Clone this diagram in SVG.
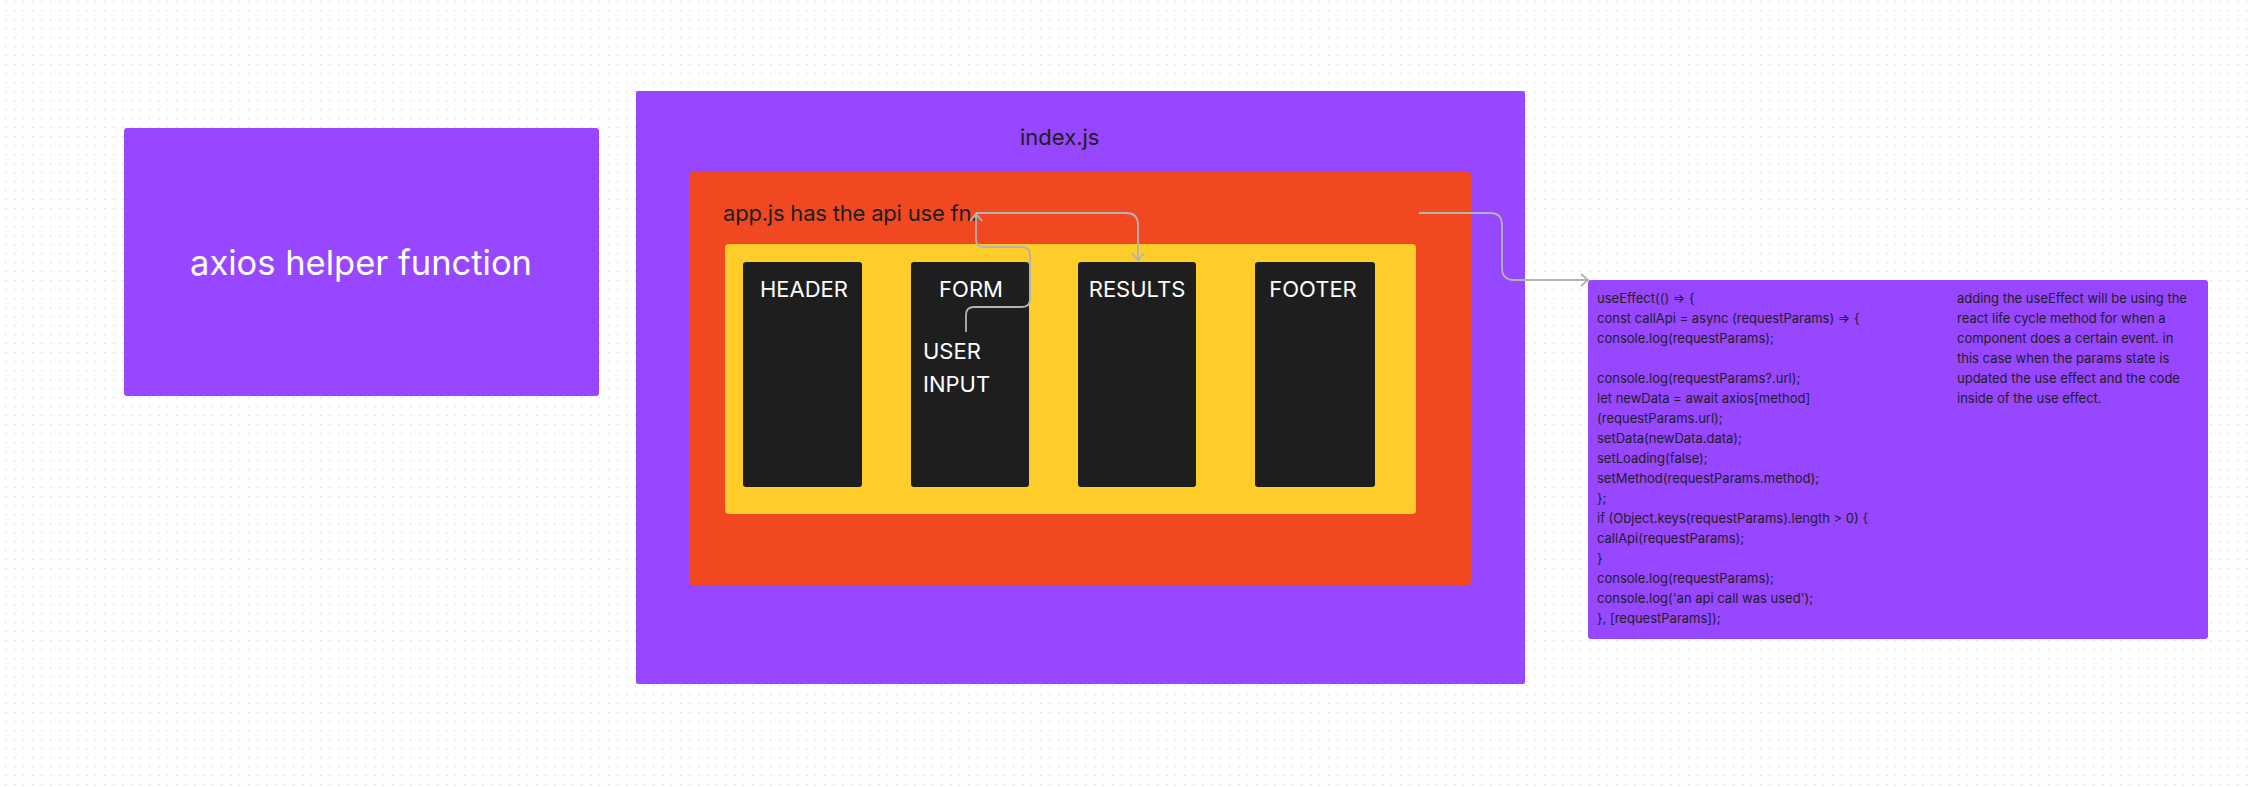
<svg xmlns="http://www.w3.org/2000/svg" width="2255" height="787" viewBox="0 0 2255 787">
<style>
.t{font-family:Inter,"Noto Sans","Liberation Sans",sans-serif}
.purple{fill:#9747FF}
.blk{fill:#1E1E1E}
.lbl{fill:#FFFFFF;font-size:22px}
.dark{fill:#1E1E1E}
.code{fill:#1E1E1E;font-size:13px}
.conn{fill:none;stroke:#B3B3B3;stroke-width:1.8}
</style>
<defs>
<pattern id="dots" x="0" y="0" width="9" height="9" patternUnits="userSpaceOnUse">
<rect x="5" y="1" width="1.4" height="1.2" fill="#D9D9D9"/>
</pattern>
<marker id="arr" viewBox="-10 -8 12 16" refX="0" refY="0" markerWidth="12" markerHeight="16" markerUnits="userSpaceOnUse" orient="auto">
<path d="M-7,-6 L0,0 L-7,6" fill="none" stroke="#B3B3B3" stroke-width="1.8"/>
</marker>
</defs>
<rect width="2255" height="787" fill="#FFFFFF"/>
<rect width="2255" height="787" fill="url(#dots)"/>

<g id="axios-helper">
<rect x="124" y="128" width="475" height="268" rx="3" class="purple"/>
<text x="361" y="275" class="t" font-size="34.5" fill="#FFFFFF" text-anchor="middle">axios helper function</text>
</g>

<g id="index-js">
<rect x="636" y="91" width="889" height="593" rx="2" class="purple"/>
<text x="1020" y="145" class="t dark" font-size="22">index.js</text>
</g>

<g id="app-js">
<rect x="689" y="172" width="782" height="413" rx="4" fill="#F24822"/>
<text x="723" y="221" class="t dark" font-size="22" letter-spacing="-0.2">app.js has the api use fn.</text>
</g>

<g id="layout">
<rect x="725" y="244" width="691" height="270" rx="4" fill="#FFCD29"/>
</g>

<g id="header">
<rect x="743" y="262" width="119" height="225" rx="3" class="blk"/>
<text x="804" y="297" class="t lbl" text-anchor="middle">HEADER</text>
</g>
<g id="form">
<rect x="911" y="262" width="118" height="225" rx="3" class="blk"/>
<text x="971" y="297" class="t lbl" text-anchor="middle">FORM</text>
<text x="923" y="359" class="t lbl">USER</text>
<text x="923" y="392" class="t lbl">INPUT</text>
</g>
<g id="results">
<rect x="1078" y="262" width="118" height="225" rx="3" class="blk"/>
<text x="1137" y="297" class="t lbl" text-anchor="middle">RESULTS</text>
</g>
<g id="footer">
<rect x="1255" y="262" width="120" height="225" rx="3" class="blk"/>
<text x="1313" y="297" class="t lbl" text-anchor="middle">FOOTER</text>
</g>

<g id="use-effect">
<rect x="1588" y="280" width="620" height="359" rx="3" class="purple"/>
<text class="t code">
<tspan x="1597" y="303">useEffect(() ⇒ {</tspan>
<tspan x="1597" y="323">const callApi = async (requestParams) ⇒ {</tspan>
<tspan x="1597" y="343">console.log(requestParams);</tspan>
<tspan x="1597" y="383">console.log(requestParams?.url);</tspan>
<tspan x="1597" y="403">let newData = await axios[method]</tspan>
<tspan x="1597" y="423">(requestParams.url);</tspan>
<tspan x="1597" y="443">setData(newData.data);</tspan>
<tspan x="1597" y="463">setLoading(false);</tspan>
<tspan x="1597" y="483">setMethod(requestParams.method);</tspan>
<tspan x="1597" y="503">};</tspan>
<tspan x="1597" y="523">if (Object.keys(requestParams).length &gt; 0) {</tspan>
<tspan x="1597" y="543">callApi(requestParams);</tspan>
<tspan x="1597" y="563">}</tspan>
<tspan x="1597" y="583">console.log(requestParams);</tspan>
<tspan x="1597" y="603">console.log('an api call was used');</tspan>
<tspan x="1597" y="623">}, [requestParams]);</tspan>
</text>
<text class="t code">
<tspan x="1957" y="303">adding the useEffect will be using the</tspan>
<tspan x="1957" y="323">react life cycle method for when a</tspan>
<tspan x="1957" y="343">component does a certain event. in</tspan>
<tspan x="1957" y="363">this case when the params state is</tspan>
<tspan x="1957" y="383">updated the use effect and the code</tspan>
<tspan x="1957" y="403">inside of the use effect.</tspan>
</text>
</g>

<g id="connectors">
<path class="conn" d="M966,332 V315 Q966,307 974,307 H1022 Q1030,307 1030,299 V255 Q1030,247 1022,247 H984 Q976,247 976,239 V214" marker-end="url(#arr)"/>
<path class="conn" d="M976,213 H1126 Q1138,213 1138,225 V260" marker-end="url(#arr)"/>
<path class="conn" d="M1419,213 H1490 Q1502,213 1502,225 V268 Q1502,280 1514,280 H1588" marker-end="url(#arr)"/>
</g>
</svg>
